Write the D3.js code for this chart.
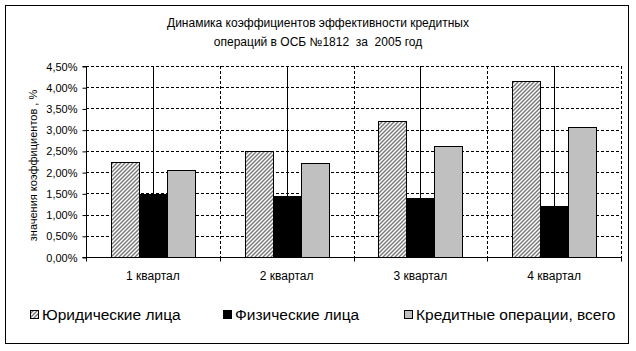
<!DOCTYPE html>
<html>
<head>
<meta charset="utf-8">
<script src="https://cdn.jsdelivr.net/npm/d3@7"></script>
<style>
  body { margin: 0; background: #fff; }
  text { font-family: Arial, "Liberation Sans", sans-serif; fill: #000; white-space: pre; }
</style>
</head>
<body>
<div id="chart"></div>
<script>
(function chart(){
const quarters = ["1 квартал", "2 квартал", "3 квартал", "4 квартал"];
const seriesNames = ["Юридические лица", "Физические лица", "Кредитные операции, всего"];
const legalValues = [2.25, 2.49, 3.21, 4.15];
const physValues = [1.49, 1.43, 1.38, 1.20];
const totalValues = [2.04, 2.21, 2.61, 3.06];
const yTicks = [0, 0.5, 1, 1.5, 2, 2.5, 3, 3.5, 4, 4.5];
const titleLines = ["Динамика коэффициентов эффективности кредитных", "операций в ОСБ №1812  за  2005 год"];
const yTitle = "значения коэффициентов , %";

const width = 636, height = 351;
const left = 86, right = 621, top = 66, bottom = 257;

const svg = d3.select("#chart")
  .append("svg")
  .attr("width", width)
  .attr("height", height);

const defs = svg.append("defs");
const pat = defs.append("pattern")
  .attr("id", "hatch")
  .attr("patternUnits", "userSpaceOnUse")
  .attr("width", 4)
  .attr("height", 4);
pat.append("rect").attr("width", 4).attr("height", 4).attr("fill", "#fff");
pat.append("path")
  .attr("d", "M-1,1 l2,-2 M0,4 l4,-4 M3,5 l2,-2")
  .attr("stroke", "#777")
  .attr("stroke-width", 1.4);

const fills = ["url(#hatch)", "#000", "#c0c0c0"];

// outer frame
svg.append("rect")
  .attr("x", 5.5).attr("y", 5.5)
  .attr("width", 623).attr("height", 338)
  .attr("fill", "#fff")
  .attr("stroke", "#000");

const x = d3.scaleBand().domain(quarters).range([left, right]);
const xs = d3.scaleBand().domain(seriesNames)
  .range([x.bandwidth() / 2 - 42, x.bandwidth() / 2 + 42]);
const y = d3.scaleLinear().domain([0, 4.5]).range([bottom, top]);

// horizontal dashed gridlines
svg.append("g")
  .selectAll("line")
  .data(yTicks.filter(d => d > 0))
  .join("line")
  .attr("x1", left).attr("x2", right)
  .attr("y1", d => Math.round(y(d)) + 0.5)
  .attr("y2", d => Math.round(y(d)) + 0.5)
  .attr("stroke", "#000")
  .attr("stroke-dasharray", "3,2");

// dashed verticals at category boundaries
svg.append("g")
  .selectAll("line")
  .data(quarters)
  .join("line")
  .attr("x1", d => Math.round(x(d) + x.bandwidth()) + 0.5)
  .attr("x2", d => Math.round(x(d) + x.bandwidth()) + 0.5)
  .attr("y1", top).attr("y2", bottom)
  .attr("stroke", "#000")
  .attr("stroke-dasharray", "3,2");

// solid verticals at category centres
svg.append("g")
  .selectAll("line")
  .data(quarters)
  .join("line")
  .attr("x1", d => Math.round(x(d) + x.bandwidth() / 2) + 0.5)
  .attr("x2", d => Math.round(x(d) + x.bandwidth() / 2) + 0.5)
  .attr("y1", top).attr("y2", bottom)
  .attr("stroke", "#000");

// bars
const series = [legalValues, physValues, totalValues];
const barData = [];
quarters.forEach((q, i) => {
  seriesNames.forEach((s, j) => barData.push({q, s, j, v: series[j][i]}));
});

svg.append("g")
  .selectAll("rect")
  .data(barData)
  .join("rect")
  .attr("x", d => Math.round(x(d.q) + xs(d.s)) + 0.5)
  .attr("y", d => Math.round(y(d.v)) + 0.5)
  .attr("width", Math.round(xs.bandwidth()))
  .attr("height", d => Math.round(bottom) - Math.round(y(d.v)))
  .attr("fill", d => fills[d.j])
  .attr("stroke", "#000");

// y axis
const yAxis = svg.append("g")
  .attr("transform", `translate(${left + 0.5},0.5)`)
  .call(d3.axisLeft(y).tickValues(yTicks).tickSize(4).tickPadding(5)
    .tickFormat(d => d3.format(".2f")(d).replace(".", ",") + "%"));
yAxis.select(".domain").attr("d", `M-4,${top}H0V${bottom}H-4`);
yAxis.selectAll("text").style("font-size", "11px");

// x axis
const xAxis = svg.append("g")
  .attr("transform", `translate(0,${bottom + 0.5})`);
xAxis.append("line")
  .attr("x1", left).attr("x2", right + 1)
  .attr("stroke", "#000");
xAxis.selectAll("line.tick")
  .data([left].concat(quarters.map(q => x(q) + x.bandwidth())))
  .join("line")
  .attr("class", "tick")
  .attr("x1", d => Math.round(d) + 0.5)
  .attr("x2", d => Math.round(d) + 0.5)
  .attr("y1", 0).attr("y2", 4)
  .attr("stroke", "#000");
xAxis.selectAll("text")
  .data(quarters)
  .join("text")
  .attr("x", d => x(d) + x.bandwidth() / 2)
  .attr("y", 22)
  .attr("text-anchor", "middle")
  .style("font-size", "12px")
  .text(d => d);

// title
svg.append("g")
  .selectAll("text")
  .data(titleLines)
  .join("text")
  .attr("x", 318)
  .attr("y", (d, i) => 27 + i * 19)
  .attr("text-anchor", "middle")
  .style("font-size", "12px")
  .text(d => d);

// y title
svg.append("text")
  .attr("transform", `translate(37,${(top + bottom) / 2 + 4}) rotate(-90)`)
  .attr("text-anchor", "middle")
  .style("font-size", "11px")
  .text(yTitle);

// legend
const legendX = [30, 223, 404];
const legend = svg.append("g")
  .selectAll("g")
  .data(seriesNames)
  .join("g")
  .attr("transform", (d, i) => `translate(${legendX[i]},310)`);
legend.append("rect")
  .attr("x", 0.5).attr("y", 0.5)
  .attr("width", 8).attr("height", 8)
  .attr("fill", (d, i) => fills[i])
  .attr("stroke", "#000");
legend.append("text")
  .attr("x", 12)
  .attr("y", 9.5)
  .style("font-size", "15.5px")
  .text(d => d);
})();
</script>
</body>
</html>
